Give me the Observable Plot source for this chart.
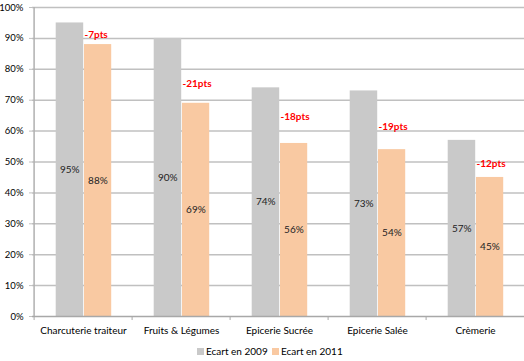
<!DOCTYPE html>
<html>
<head>
<meta charset="utf-8">
<script src="https://cdn.jsdelivr.net/npm/d3@7"></script>
<script src="https://cdn.jsdelivr.net/npm/@observablehq/plot@0.6"></script>
<style>
  body { margin: 0; background: #fff; overflow: hidden; }
  #legend { position: relative; height: 20px; font-family: Lato, "Liberation Sans", sans-serif; font-size: 10px; color: #000; }
  .item { position: absolute; top: 4px; display: flex; align-items: center; line-height: 12px; }
  .sw { width: 7px; height: 7px; display: inline-block; margin-right: 2px; }
</style>
</head>
<body>
<div id="chart"></div>
<div id="legend"></div>
<script>
const categories = ["Charcuterie traiteur", "Fruits & Légumes", "Epicerie Sucrée", "Epicerie Salée", "Crèmerie"];
const values2009 = [95, 90, 74, 73, 57];
const values2011 = [88, 69, 56, 54, 45];
const gapLabels = ["-7pts", "-21pts", "-18pts", "-19pts", "-12pts"];
const gapLabelY = [91.3, 75.2, 64.5, 61.3, 49.4];
const yTicks = [0, 10, 20, 30, 40, 50, 60, 70, 80, 90, 100];
const seriesNames = ["Ecart en 2009", "Ecart en 2011"];
const seriesColors = ["#c9c9c9", "#f9c9a2"];

const data = categories.map((c, i) => ({
  category: c, v2009: values2009[i], v2011: values2011[i], gap: gapLabels[i], gapY: gapLabelY[i]
}));

const x0 = 32, x1 = 526;
const step = (x1 - x0) / categories.length;

const chart = Plot.plot({
  width: 524,
  height: 341,
  marginLeft: 32,
  marginRight: 0,
  marginTop: 7,
  marginBottom: 25,
  style: { fontFamily: "Lato, 'Liberation Sans', sans-serif", fontSize: "10px", color: "#000", background: "#fff", overflow: "visible" },
  x: { domain: categories, range: [x0, x1], padding: 0, axis: null, label: null },
  y: { domain: [0, 100], axis: null, label: null },
  marks: [
    Plot.ruleY(yTicks.slice(1), { stroke: "#c0c0c0", strokeWidth: 1.5 }),
    Plot.axisY({ ticks: yTicks, tickFormat: d => d + "%", tickSize: 3, tickPadding: 6, stroke: "#c0c0c0", fill: "#000", fontSize: 9.5, label: null }),
    Plot.barY(data, { x: "category", y: "v2009", fill: seriesColors[0], insetLeft: 21.7, insetRight: step - 50 }),
    Plot.barY(data, { x: "category", y: "v2011", fill: seriesColors[1], insetLeft: 50, insetRight: step - 78 }),
    Plot.ruleY([0], { stroke: "#a8a8a8", strokeWidth: 1.5 }),
    Plot.ruleX([categories[0]], { dx: -step / 2, y1: 0, y2: 100, stroke: "#b0b0b0", strokeWidth: 1.5 }),
    Plot.ruleX(categories, { dx: -step / 2, y1: 0, y2: -1.3, stroke: "#a8a8a8" }),
    Plot.axisX({ tickSize: 0, tickPadding: 10, fill: "#000", label: null }),
    Plot.text(data, { x: "category", y: d => d.v2009 / 2, text: d => d.v2009 + "%", dx: -13.8, fill: "#222" }),
    Plot.text(data, { x: "category", y: d => d.v2011 / 2, text: d => d.v2011 + "%", dx: 14.4, fill: "#222" }),
    Plot.text(data, { x: "category", y: "gapY", text: "gap", textAnchor: "start", dx: 1, fill: "#ff0000", fontWeight: "bold" })
  ]
});
document.getElementById("chart").append(chart);

const legend = document.getElementById("legend");
const lefts = [197, 272];
seriesNames.forEach((name, i) => {
  const item = document.createElement("div");
  item.className = "item";
  item.style.left = lefts[i] + "px";
  const sw = document.createElement("span");
  sw.className = "sw";
  sw.style.background = seriesColors[i];
  const t = document.createElement("span");
  t.textContent = name;
  item.append(sw, t);
  legend.append(item);
});
</script>
</body>
</html>
